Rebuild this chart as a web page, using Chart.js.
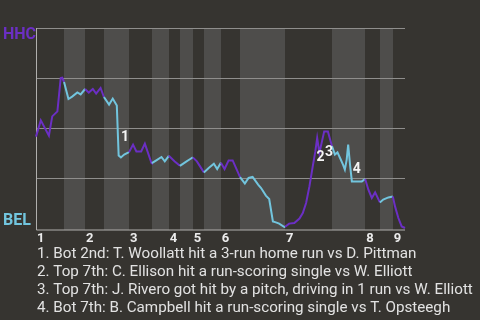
<!DOCTYPE html>
<html>
<head>
<meta charset="utf-8">
<script src="https://cdn.jsdelivr.net/npm/chart.js@4/dist/chart.umd.min.js"></script>
<style>
html,body{margin:0;padding:0;background:#363430;}
#wrap{width:480px;height:320px;position:relative;}
</style>
</head>
<body>
<div id="wrap"><canvas id="c" width="480" height="320"></canvas></div>
<script>
// ---- data ----
const innings = ['1','2','3','4','5','6','7','8','9'];
// start of each half inning, in plate-appearance progress units (top1, bot1, top2, ...)
const halfInningStarts = [0, 7.6, 13.3, 18.4, 25.2, 31.4, 36.0, 39.0, 42.5, 45.5, 50.1, 55.3, 67.5, 80.2, 89.2, 93.2, 96.7];
const gameEnd = 100;
const teams = ['HHC', 'BEL'];
// game progress of each event
const progress = [0, 1.3, 3.5, 4.4, 5.8, 6.7, 7.1, 7.6, 8.8, 9.8, 11.2, 12.1, 13.3, 14.3, 15.4, 16.3, 17.5, 18.4,
  19.8, 20.8, 21.9, 22.4, 23.0, 23.9, 25.2, 26.3, 27.2, 28.5, 29.5, 31.3, 31.4, 32.6, 34.0, 34.9, 36.0,
  37.6, 39.0, 40.6, 41.8, 42.5, 43.6, 45.5, 46.8, 48.2, 49.1, 50.1, 51.1, 52.2, 53.3, 55.3, 56.6, 57.6,
  58.7, 60.2, 61.0, 62.3, 63.2, 64.2, 65.0, 65.9, 67.3, 67.5, 68.6, 70.0, 71.4, 72.3, 73.2, 74.1, 75.0,
  75.7, 76.2, 76.8, 78.1, 79.1, 80.2, 81.0, 81.7, 82.4, 83.2, 83.7, 84.2, 84.6, 85.1, 85.6, 88.3, 89.2,
  90.1, 91.0, 91.9, 93.2, 94.1, 95.5, 96.7, 97.3, 98.2, 99.1, 100];
// HHC win probability after each event
const hhcWinProb = [0.457, 0.538, 0.462, 0.558, 0.583, 0.75, 0.752, 0.73, 0.645, 0.657, 0.678, 0.668, 0.695, 0.677, 0.695, 0.672, 0.70, 0.655,
  0.617, 0.647, 0.612, 0.362, 0.353, 0.367, 0.379, 0.417, 0.383, 0.383, 0.422, 0.325, 0.324, 0.338, 0.355, 0.333, 0.361,
  0.333, 0.311, 0.331, 0.345, 0.353, 0.333, 0.278, 0.30, 0.321, 0.295, 0.326, 0.295, 0.338, 0.338, 0.254, 0.222, 0.25,
  0.255, 0.217, 0.20, 0.162, 0.145, 0.033, 0.028, 0.022, 0.005, 0.006, 0.022, 0.025, 0.047, 0.075, 0.125, 0.208, 0.308,
  0.383, 0.45, 0.375, 0.483, 0.483, 0.41, 0.367, 0.378, 0.35, 0.317, 0.292, 0.342, 0.417, 0.317, 0.233, 0.233, 0.245,
  0.19, 0.15, 0.178, 0.128, 0.142, 0.153, 0.158, 0.108, 0.05, 0.008, 0.0];
// key-play markers
const keyPlayLabels = ['1', '2', '3', '4'];
const keyPlayX = [24.1, 77.1, 79.4, 86.9];
const keyPlayY = [0.451, 0.351, 0.376, 0.294];
const keyPlayNotes = [
  '1. Bot 2nd: T. Woollatt hit a 3-run home run vs D. Pittman',
  '2. Top 7th: C. Ellison hit a run-scoring single vs W. Elliott',
  '3. Top 7th: J. Rivero got hit by a pitch, driving in 1 run vs W. Elliott',
  '4. Bot 7th: B. Campbell hit a run-scoring single vs T. Opsteegh'
];
const gridValues = [0.25, 0.5, 0.75, 1.0];

// ---- styles ----
const BG = '#363430';
const BAND = '#4e4d4b';
const GRID = '#8f8e8c';
const AXIS = '#b0afad';
const PURPLE = '#6b2fc4';
const BLUE = '#72c5de';
const FONT = 'Roboto, "Liberation Sans", sans-serif';

function halfIndexAt(x) {
  let idx = 0;
  for (let i = 0; i < halfInningStarts.length; i++) if (halfInningStarts[i] <= x) idx = i;
  return idx;
}

const decor = {
  id: 'decor',
  beforeDraw(chart) {
    const {ctx, chartArea: a, scales: {x, y}} = chart;
    ctx.save();
    ctx.fillStyle = BG;
    ctx.fillRect(0, 0, chart.width, chart.height);
    // bands for bottom halves
    ctx.fillStyle = BAND;
    for (let i = 1; i < halfInningStarts.length; i += 2) {
      const x0 = Math.round(x.getPixelForValue(halfInningStarts[i]));
      const end = i + 1 < halfInningStarts.length ? halfInningStarts[i + 1] : gameEnd;
      const x1 = Math.round(x.getPixelForValue(end));
      ctx.fillRect(x0, a.top, x1 - x0, a.bottom + 2 - a.top);
    }
    // gridlines
    ctx.strokeStyle = GRID;
    ctx.lineWidth = 1;
    gridValues.forEach(v => {
      const py = Math.round(y.getPixelForValue(v)) + 0.5;
      ctx.beginPath(); ctx.moveTo(a.left, py); ctx.lineTo(a.right, py); ctx.stroke();
    });
    // axes
    ctx.strokeStyle = AXIS;
    ctx.beginPath();
    ctx.moveTo(a.left + 0.5, a.top);
    ctx.lineTo(a.left + 0.5, a.bottom + 2);
    ctx.lineTo(a.right, a.bottom + 2);
    ctx.stroke();
    // team labels
    ctx.font = 'bold 16px ' + FONT;
    ctx.textAlign = 'left';
    ctx.textBaseline = 'alphabetic';
    ctx.fillStyle = PURPLE;
    ctx.fillText(teams[0], 3, 39);
    ctx.fillStyle = BLUE;
    ctx.fillText(teams[1], 3, 225);
    // inning numbers
    ctx.fillStyle = '#ececec';
    ctx.font = 'bold 13px ' + FONT;
    innings.forEach((lab, i) => {
      const px = x.getPixelForValue(halfInningStarts[i * 2]);
      ctx.fillText(lab, px + 1, 242);
    });
    // notes
    ctx.font = '15.2px ' + FONT;
    ctx.fillStyle = '#e2e2e2';
    keyPlayNotes.forEach((t, i) => ctx.fillText(t, 37, 258 + i * 18));
    ctx.restore();
  },
  afterDatasetsDraw(chart) {
    const {ctx, scales: {x, y}} = chart;
    ctx.save();
    ctx.font = 'bold 14px ' + FONT;
    ctx.fillStyle = '#f4f4f4';
    ctx.textAlign = 'center';
    ctx.textBaseline = 'middle';
    keyPlayLabels.forEach((lab, i) => {
      ctx.fillText(lab, x.getPixelForValue(keyPlayX[i]), y.getPixelForValue(keyPlayY[i]));
    });
    ctx.restore();
  }
};

new Chart(document.getElementById('c'), {
  type: 'line',
  data: {
    datasets: [{
      data: progress.map((p, i) => ({x: p, y: hhcWinProb[i]})),
      borderWidth: 2,
      pointRadius: 0,
      tension: 0,
      borderColor: PURPLE,
      segment: {
        borderColor: c => halfIndexAt((c.p0.parsed.x + c.p1.parsed.x) / 2) % 2 === 0 ? PURPLE : BLUE
      },
      clip: 4
    }]
  },
  options: {
    responsive: false,
    animation: false,
    layout: {padding: {left: 36, right: 75, top: 28, bottom: 92}},
    plugins: {legend: {display: false}, tooltip: {enabled: false}},
    scales: {
      x: {type: 'linear', display: false, min: 0, max: gameEnd},
      y: {type: 'linear', display: false, min: 0, max: 1}
    }
  },
  plugins: [decor]
});
</script>
</body>
</html>
